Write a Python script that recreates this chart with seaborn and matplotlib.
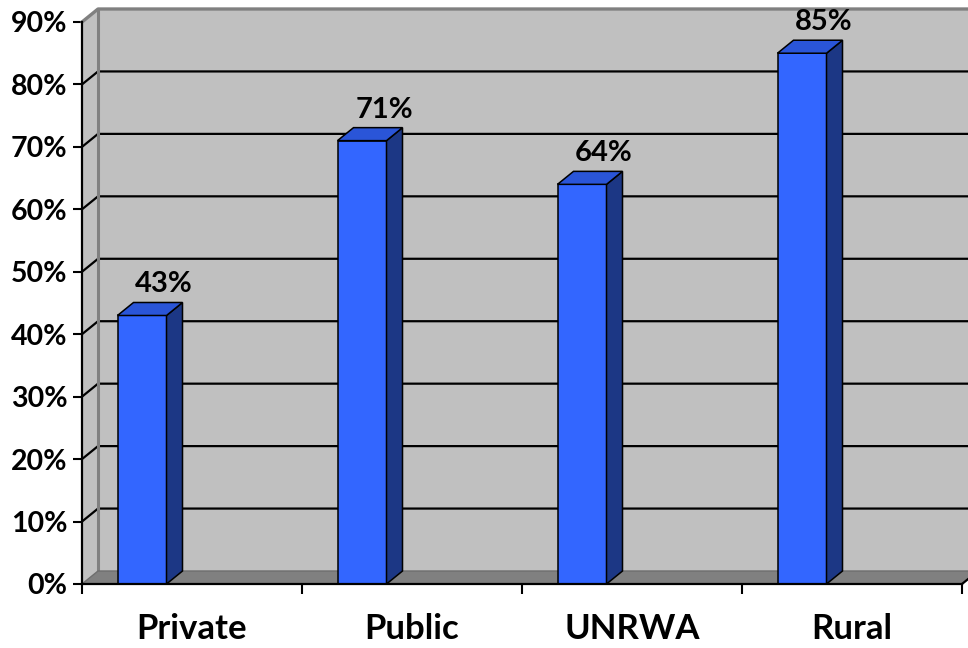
import matplotlib
matplotlib.use("Agg")
import matplotlib.pyplot as plt
from matplotlib.patches import Polygon
import pandas as pd
import seaborn as sns

# Data
categories = ["Private", "Public", "UNRWA", "Rural"]
shares = [0.43, 0.71, 0.64, 0.85]
y_ticks = [0.0, 0.1, 0.2, 0.3, 0.4, 0.5, 0.6, 0.7, 0.8, 0.9]
y_tick_labels = ["0%", "10%", "20%", "30%", "40%", "50%", "60%", "70%", "80%", "90%"]

# Layout (pixels)
W, H, DPI = 968, 648, 100
LEFT, RIGHT, TOP, BOTTOM = 82, 962, 22, 584
DEPTH_X, DEPTH_Y = 16, 13          # oblique depth of the 3-D frame
BAR_W = 49 / 220                    # bar width as a fraction of a category
BAR_SHIFT = -50 / 220               # bars sit toward the front-left of each slot

WALL = "#c0c0c0"
FLOOR = "#808080"
EDGE_GRAY = "#808080"
FRONT = "#3366ff"
SIDE = "#1c3785"
TOPC = "#2a55d8"

sns.set_theme(style="white")
plt.rcParams["font.family"] = ["Lato", "DejaVu Sans"]
plt.rcParams["font.weight"] = "bold"

fig = plt.figure(figsize=(W / DPI, H / DPI), dpi=DPI)
fig.patch.set_facecolor("white")
ax = fig.add_axes([LEFT / W, 1 - BOTTOM / H, (RIGHT - LEFT) / W, (BOTTOM - TOP) / H])

df = pd.DataFrame({"category": categories, "share": shares})
sns.barplot(data=df, x="category", y="share", color=FRONT, saturation=1,
            width=BAR_W, edgecolor="black", linewidth=1.1, ax=ax, zorder=3)

x0, x1 = -0.5, len(categories) - 0.5
ymax = y_ticks[-1]
ax.set_xlim(x0, x1)
ax.set_ylim(0, ymax)
dx = DEPTH_X / (RIGHT - LEFT) * (x1 - x0)
dy = DEPTH_Y / (BOTTOM - TOP) * ymax

# Walls and floor of the 3-D frame
back = Polygon([(x0 + dx, dy), (x1 + dx, dy), (x1 + dx, ymax + dy), (x0 + dx, ymax + dy)],
               closed=True, facecolor=WALL, edgecolor="none", zorder=0.2, clip_on=False)
side = Polygon([(x0, 0), (x0 + dx, dy), (x0 + dx, ymax + dy), (x0, ymax)],
               closed=True, facecolor=WALL, edgecolor="none", zorder=0.2, clip_on=False)
floor = Polygon([(x0, 0), (x1, 0), (x1 + dx, dy), (x0 + dx, dy)],
                closed=True, facecolor=FLOOR, edgecolor="none", zorder=0.3, clip_on=False)
for p in (back, side, floor):
    ax.add_patch(p)

# Gridlines across the side and back walls
for v in y_ticks[1:-1]:
    ax.plot([x0, x0 + dx, x1 + dx], [v, v + dy, v + dy], color="black",
            lw=1.6, zorder=0.5, clip_on=False, solid_capstyle="butt")

# Wall edges
ax.plot([x0, x0 + dx, x1 + dx], [ymax, ymax + dy, ymax + dy], color=EDGE_GRAY,
        lw=2.4, zorder=0.6, clip_on=False)
ax.plot([x0 + dx, x0 + dx], [dy, ymax + dy], color=EDGE_GRAY, lw=2.2, zorder=0.6, clip_on=False)
ax.plot([x0, x0 + dx, x1 + dx], [0, dy, dy], color="#6e6e6e", lw=1.0, zorder=0.6, clip_on=False)
ax.plot([x1, x1 + dx], [0, dy], color="black", lw=1.6, zorder=0.6, clip_on=False)

# Move bars and add their side and top faces
for patch, v in zip(ax.patches[:len(shares)], shares):
    patch.set_x(patch.get_x() + BAR_SHIFT)
    bx0 = patch.get_x()
    bx1 = bx0 + patch.get_width()
    h = patch.get_height()
    ax.add_patch(Polygon([(bx1, 0), (bx1 + dx, dy), (bx1 + dx, h + dy), (bx1, h)], closed=True,
                         facecolor=SIDE, edgecolor="black", lw=1.1, zorder=3.1))
    ax.add_patch(Polygon([(bx0, h), (bx1, h), (bx1 + dx, h + dy), (bx0 + dx, h + dy)], closed=True,
                         facecolor=TOPC, edgecolor="black", lw=1.1, zorder=3.1, clip_on=False))
    ax.annotate(f"{round(v * 100)}%", xy=((bx0 + bx1) / 2, h), xytext=(DEPTH_X + 6, DEPTH_Y + 5),
                textcoords="offset pixels", ha="center", va="bottom",
                fontsize=21, fontweight="bold", color="black", annotation_clip=False)

# Axes, ticks and labels
for s in ("top", "right"):
    ax.spines[s].set_visible(False)
for s in ("left", "bottom"):
    ax.spines[s].set_color("black")
    ax.spines[s].set_linewidth(1.6)
    ax.spines[s].set_zorder(4)

ax.set_yticks(y_ticks, y_tick_labels)
ax.tick_params(axis="y", which="major", left=True, length=6.5, width=1.5, color="black",
               pad=4, labelsize=20.5)
ax.set_xticks(range(len(categories)), categories)
ax.set_xticks([x0 + i for i in range(len(categories) + 1)], minor=True)
ax.tick_params(axis="x", which="major", bottom=True, length=0, pad=21, labelsize=25)
ax.tick_params(axis="x", which="minor", bottom=True, length=7.5, width=1.5, color="black")
for lab in ax.get_xticklabels() + ax.get_yticklabels():
    lab.set_fontweight("bold")
    lab.set_color("black")
ax.set_xlabel("")
ax.set_ylabel("")
ax.grid(False)

fig.savefig("out.png", dpi=DPI, facecolor="white")
